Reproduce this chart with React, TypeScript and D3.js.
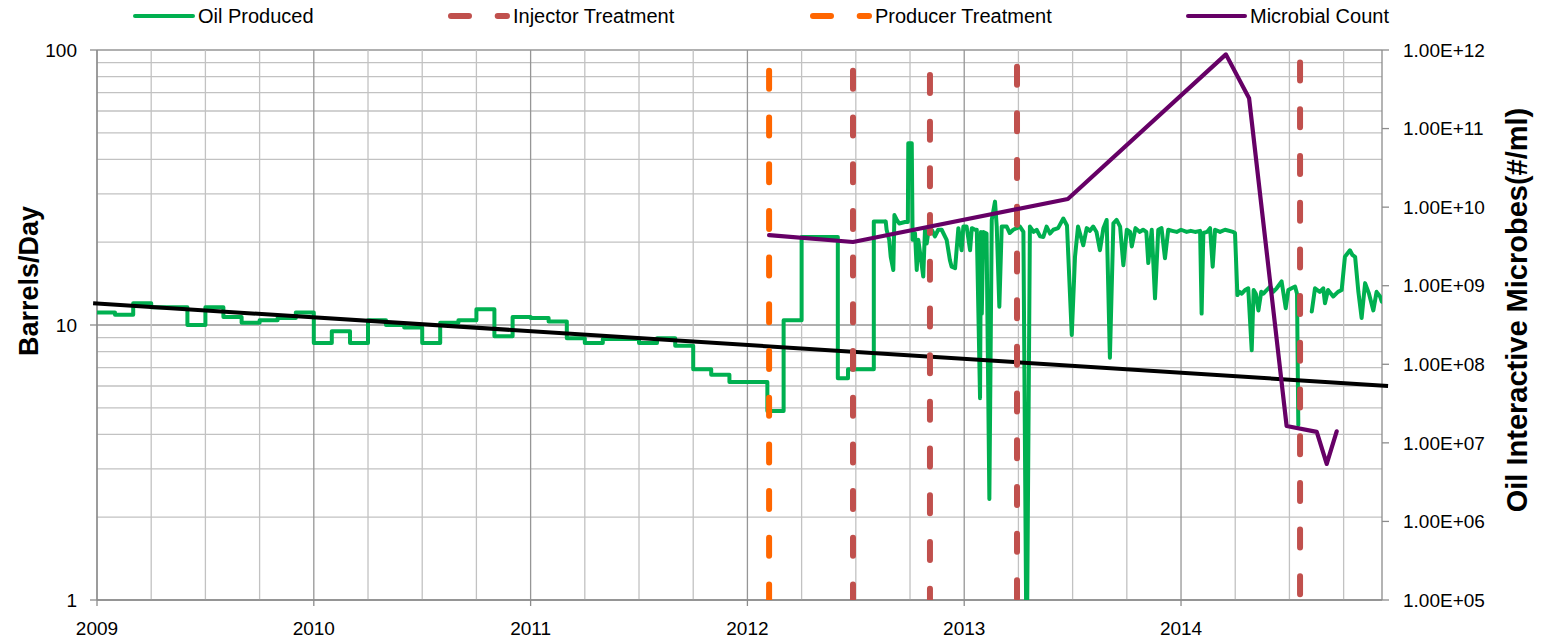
import React from 'react';
import * as d3 from 'd3';

// ---------- data ----------
const yearTicks = [2009, 2010, 2011, 2012, 2013, 2014];
const leftTicks = [1, 10, 100];
const rightTicks = [1e5, 1e6, 1e7, 1e8, 1e9, 1e10, 1e11, 1e12];
const rightTickLabels = ['1.00E+05', '1.00E+06', '1.00E+07', '1.00E+08', '1.00E+09', '1.00E+10', '1.00E+11', '1.00E+12'];

// monthly (stepped) oil production, barrels/day
const oilMonthly: [number, number][] = [
  [2009.000, 11.1], [2009.083, 10.9], [2009.167, 12.0], [2009.250, 11.6], [2009.417, 10.0],
  [2009.500, 11.6], [2009.583, 10.7], [2009.667, 10.2], [2009.750, 10.4], [2009.833, 10.6],
  [2009.917, 11.1], [2010.000, 8.6], [2010.083, 9.5], [2010.167, 8.6], [2010.250, 10.4],
  [2010.333, 10.0], [2010.417, 9.8], [2010.500, 8.6], [2010.583, 10.2], [2010.667, 10.4],
  [2010.750, 11.4], [2010.833, 9.1], [2010.917, 10.7], [2011.000, 10.6], [2011.083, 10.3],
  [2011.167, 8.95], [2011.250, 8.6], [2011.333, 8.9], [2011.500, 8.6], [2011.583, 8.95],
  [2011.667, 8.4], [2011.750, 6.9], [2011.833, 6.6], [2011.917, 6.2], [2012.092, 4.87],
  [2012.167, 10.4], [2012.250, 20.9], [2012.417, 6.4], [2012.464, 6.9], [2012.583, 23.8],
  [2012.638, 23.8],
];

// daily oil production, barrels/day (null = no data)
const oilDaily: [number, number | null][] = [
  [2012.638, 23.8], [2012.642, 22.2], [2012.654, 20.4], [2012.661, 17.7], [2012.673, 15.85],
  [2012.678, 25.1], [2012.689, 24.1], [2012.700, 23.4], [2012.727, 23.7], [2012.740, 23.7],
  [2012.742, 45.8], [2012.758, 45.8], [2012.762, 20.4], [2012.773, 21.6], [2012.781, 15.85],
  [2012.788, 20.4], [2012.799, 17.7], [2012.811, 15.0], [2012.819, 22.2], [2012.827, 19.8],
  [2012.834, 21.6], [2012.850, 22.2], [2012.865, 21.0], [2012.880, 22.2], [2012.896, 22.2],
  [2012.919, 20.4], [2012.934, 17.2], [2012.942, 16.3], [2012.958, 16.1], [2012.973, 22.5],
  [2012.988, 18.7], [2012.996, 22.8], [2013.011, 22.8], [2013.027, 18.7], [2013.035, 22.5],
  [2013.050, 22.2], [2013.058, 22.2], [2013.073, 5.42], [2013.077, 21.8], [2013.081, 11.0],
  [2013.088, 21.8], [2013.103, 21.5], [2013.116, 2.33], [2013.127, 24.1], [2013.142, 28.1],
  [2013.150, 22.8], [2013.162, 11.65], [2013.173, 22.8], [2013.196, 22.8], [2013.210, 21.6],
  [2013.226, 22.2], [2013.257, 22.8], [2013.273, 21.8], [2013.288, 0.5], [2013.303, 22.8],
  [2013.320, 21.8], [2013.334, 22.2], [2013.350, 21.0], [2013.365, 20.9], [2013.380, 22.8],
  [2013.396, 21.5], [2013.411, 22.2], [2013.433, 22.5], [2013.457, 24.4], [2013.474, 23.0],
  [2013.496, 9.2], [2013.511, 17.7], [2013.525, 22.8], [2013.549, 19.5], [2013.565, 22.5],
  [2013.580, 22.0], [2013.595, 22.8], [2013.610, 21.8], [2013.626, 18.7], [2013.642, 22.5],
  [2013.657, 24.1], [2013.672, 7.6], [2013.688, 23.4], [2013.703, 24.1], [2013.719, 22.8],
  [2013.734, 16.5], [2013.750, 22.2], [2013.765, 21.8], [2013.773, 19.3], [2013.790, 22.5],
  [2013.810, 21.8], [2013.825, 22.2], [2013.840, 21.8], [2013.849, 16.8], [2013.865, 22.2],
  [2013.880, 12.5], [2013.895, 22.2], [2013.910, 22.5], [2013.926, 17.5], [2013.941, 22.2],
  [2013.960, 22.0], [2013.980, 21.8], [2014.000, 22.2], [2014.026, 21.8], [2014.045, 22.0],
  [2014.065, 21.8], [2014.088, 22.0], [2014.095, 11.0], [2014.103, 21.6], [2014.120, 21.8],
  [2014.134, 22.5], [2014.146, 16.3], [2014.157, 22.2], [2014.180, 21.8], [2014.203, 22.2],
  [2014.240, 21.8], [2014.249, 21.6], [2014.260, 12.85], [2014.270, 13.2], [2014.280, 13.0],
  [2014.295, 13.4], [2014.310, 13.6], [2014.326, 8.1], [2014.335, 13.4], [2014.345, 13.0],
  [2014.357, 11.3], [2014.370, 13.2], [2014.380, 13.0], [2014.395, 13.4], [2014.411, 13.8],
  [2014.425, 13.2], [2014.441, 13.6], [2014.464, 14.4], [2014.483, 11.5], [2014.495, 13.4],
  [2014.510, 13.6], [2014.526, 13.8], [2014.535, 13.0], [2014.541, 4.33], [2014.570, null],
  [2014.603, 11.2], [2014.618, 13.6], [2014.640, 13.2], [2014.656, 13.6], [2014.664, 12.0],
  [2014.678, 13.4], [2014.702, 12.7], [2014.724, 13.2], [2014.741, 13.4], [2014.756, 17.7],
  [2014.779, 18.7], [2014.790, 18.0], [2014.803, 17.7], [2014.818, 13.2], [2014.833, 10.6],
  [2014.849, 14.2], [2014.867, 13.0], [2014.887, 11.3], [2014.902, 13.2], [2014.918, 12.7],
  [2014.926, 12.15],
];

// microbial count (#/ml)
const microbeDates = [2012.100, 2012.487, 2013.478, 2014.207, 2014.314, 2014.487, 2014.626, 2014.672, 2014.718];
const microbeValues = [4.4e9, 3.6e9, 1.27e10, 8.8e11, 2.43e11, 1.64e7, 1.38e7, 5.4e6, 1.4e7];

// treatments (date, top value on left axis)
const injectorDates = [2012.487, 2012.842, 2013.2435, 2014.549];
const injectorTops = [84, 120, 87, 90];
const producerDates = [2012.100];
const producerTops = [84];

// trendline on oil production
const trendDates = [2008.982, 2014.955];
const trendValues = [12.0, 6.0];

// ---------- chart ----------
const W = 1545;
const H = 640;
const FONT = "'Liberation Sans', Arial, sans-serif";
const GREEN = '#00b050';
const RED = '#c0504d';
const ORANGE = '#ff6600';
const PURPLE = '#660066';

export default function App() {
  const x = d3.scaleLinear().domain([2009, 2014.927]).range([97, 1382]);
  const yL = d3.scaleLog().domain([1, 100]).range([600, 50]);
  const yR = d3.scaleLog().domain([1e5, 1e12]).range([600, 50]);
  const [x0, x1] = x.range();
  const [yb, yt] = yL.range();

  const quarterLines = d3.range(2009, 2014.93, 0.25);
  const hLines = yL.ticks();

  const stepLine = d3.line<[number, number]>()
    .x(d => x(d[0])).y(d => yL(d[1])).curve(d3.curveStepAfter);
  const dailyLine = d3.line<[number, number | null]>()
    .defined(d => d[1] !== null)
    .x(d => x(d[0])).y(d => yL(d[1] as number));
  const microbeLine = d3.line<number>()
    .x((_, i) => x(microbeDates[i])).y(d => yR(d));
  const trendLine = d3.line<number>()
    .x((_, i) => x(trendDates[i])).y(d => yL(d));

  const dash = '18 28.7';

  const legendItems = [
    { label: 'Oil Produced', color: GREEN, x1: 135, x2: 193, tx: 198, dashed: false },
    { label: 'Injector Treatment', color: RED, x1: 451, x2: 507, tx: 513, dashed: true },
    { label: 'Producer Treatment', color: ORANGE, x1: 813, x2: 869, tx: 875, dashed: true },
    { label: 'Microbial Count', color: PURPLE, x1: 1188, x2: 1245, tx: 1250, dashed: false },
  ];

  return (
    <svg width={W} height={H} style={{ position: 'absolute', left: 0, top: 0, display: 'block', background: '#fff' }}
      fontFamily={FONT}>
      <defs>
        <clipPath id="plot">
          <rect x={x0} y={yt} width={x1 - x0} height={yb - yt} />
        </clipPath>
      </defs>
      {/* horizontal gridlines */}
      {hLines.map((v, i) => {
        const major = Math.abs(Math.log10(v) - Math.round(Math.log10(v))) < 1e-9;
        return <line key={'h' + i} x1={x0} x2={x1} y1={yL(v)} y2={yL(v)}
          stroke={major ? '#969696' : '#c2c2c2'} strokeWidth={1.3} />;
      })}
      {/* vertical gridlines */}
      {quarterLines.map((t, i) => {
        const major = Math.abs(t - Math.round(t)) < 1e-9;
        return <line key={'v' + i} x1={x(t)} x2={x(t)} y1={yt} y2={yb}
          stroke={major ? '#969696' : '#c2c2c2'} strokeWidth={1.3} />;
      })}
      {/* axes */}
      <line x1={x0} x2={x0} y1={yt} y2={yb} stroke="#8c8c8c" strokeWidth={1.3} />
      <line x1={x1} x2={x1} y1={yt} y2={yb} stroke="#8c8c8c" strokeWidth={1.3} />
      <line x1={x0} x2={x1} y1={yb} y2={yb} stroke="#8c8c8c" strokeWidth={1.3} />
      {leftTicks.map(v => (
        <g key={'lt' + v}>
          <line x1={x0 - 7} x2={x0} y1={yL(v)} y2={yL(v)} stroke="#8c8c8c" strokeWidth={1.3} />
          <text x={77} y={yL(v)} dy="0.35em" textAnchor="end" fontSize={19} fill="#000">{v}</text>
        </g>
      ))}
      {rightTicks.map((v, i) => (
        <g key={'rt' + i}>
          <line x1={x1} x2={x1 + 7} y1={yR(v)} y2={yR(v)} stroke="#8c8c8c" strokeWidth={1.3} />
          <text x={1403} y={yR(v)} dy="0.35em" textAnchor="start" fontSize={19} fill="#000">{rightTickLabels[i]}</text>
        </g>
      ))}
      {yearTicks.map(t => (
        <g key={'yt' + t}>
          <line x1={x(t)} x2={x(t)} y1={yb} y2={yb + 6} stroke="#8c8c8c" strokeWidth={1.3} />
          <text x={x(t)} y={635} textAnchor="middle" fontSize={19} fill="#000">{t}</text>
        </g>
      ))}
      {/* axis titles */}
      <text transform={`translate(38,281) rotate(-90)`} textAnchor="middle" fontSize={27} fontWeight="bold" fill="#000">Barrels/Day</text>
      <text transform={`translate(1527,310) rotate(-90)`} textAnchor="middle" fontSize={29} fontWeight="bold" fill="#000">Oil Interactive Microbes(#/ml)</text>

      {/* series */}
      <g clipPath="url(#plot)">
        <path d={stepLine(oilMonthly) || ''} fill="none" stroke={GREEN} strokeWidth={4} strokeLinejoin="round" />
        <path d={dailyLine(oilDaily) || ''} fill="none" stroke={GREEN} strokeWidth={4} strokeLinejoin="round" strokeLinecap="round" />
      </g>
      <path d={trendLine(trendValues) || ''} fill="none" stroke="#000" strokeWidth={4} />
      <g clipPath="url(#plot)">
        {injectorDates.map((t, i) => (
          <line key={'inj' + i} x1={x(t)} x2={x(t)} y1={yL(injectorTops[i])} y2={yL(1)}
            stroke={RED} strokeWidth={6} strokeDasharray={dash} strokeLinecap="round" />
        ))}
        {producerDates.map((t, i) => (
          <line key={'prod' + i} x1={x(t)} x2={x(t)} y1={yL(producerTops[i])} y2={yL(1)}
            stroke={ORANGE} strokeWidth={6} strokeDasharray={dash} strokeLinecap="round" />
        ))}
      </g>
      <path d={microbeLine(microbeValues) || ''} fill="none" stroke={PURPLE} strokeWidth={4.2} strokeLinejoin="round" strokeLinecap="round" />

      {/* legend */}
      {legendItems.map(it => (
        <g key={it.label}>
          <line x1={it.x1} x2={it.x2} y1={16} y2={16} stroke={it.color}
            strokeWidth={it.dashed ? 6 : 4} strokeLinecap="round"
            strokeDasharray={it.dashed ? dash : undefined} />
          <text x={it.tx} y={16} dy="0.35em" fontSize={20} fill="#000">{it.label}</text>
        </g>
      ))}
    </svg>
  );
}
